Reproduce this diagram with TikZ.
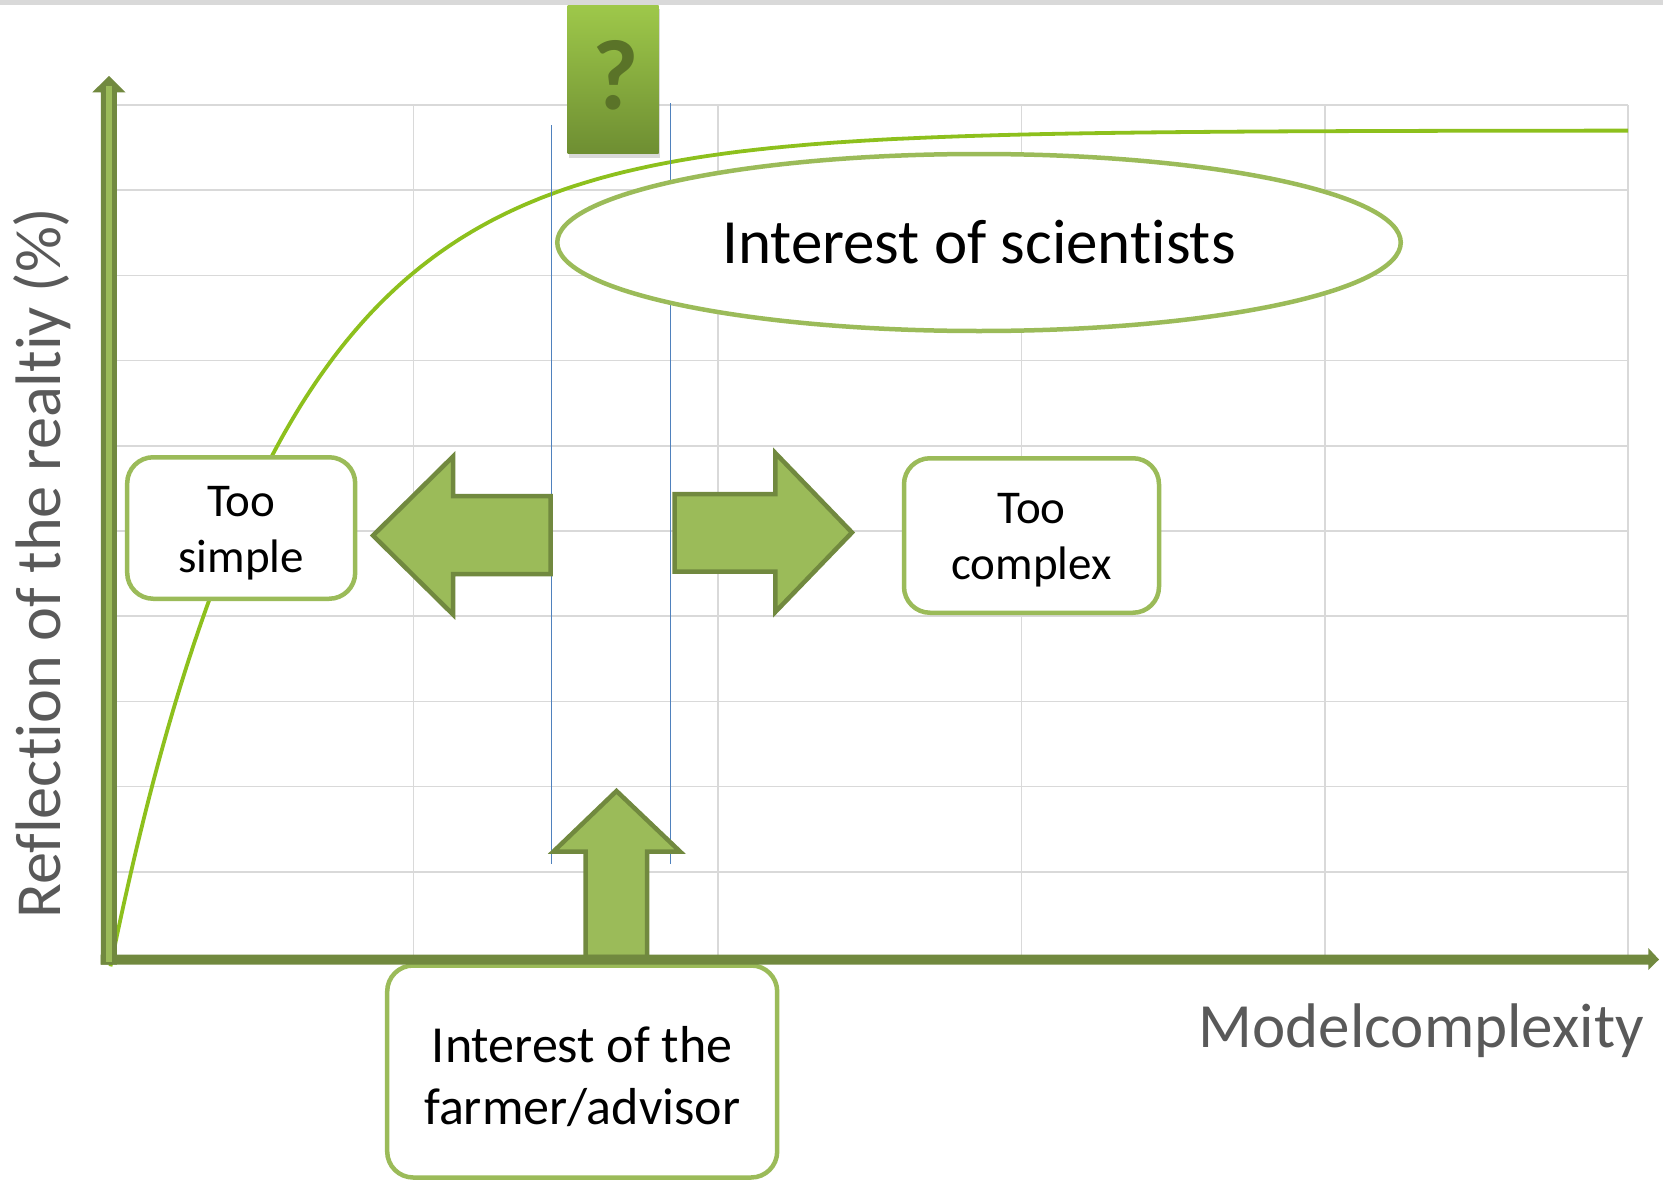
\documentclass[tikz,border=0pt]{standalone}
\usepackage{fontspec}
\setmainfont{Carlito}[Ligatures=NoCommon]
\usetikzlibrary{shapes.geometric,shadows}
\definecolor{gridgray}{RGB}{217,217,217}
\definecolor{axisolive}{RGB}{113,137,63}
\definecolor{lightgreen}{RGB}{155,187,89}
\definecolor{curvegreen}{RGB}{141,192,29}
\definecolor{vblue}{RGB}{79,129,189}
\definecolor{labelgray}{RGB}{89,89,89}
\definecolor{qtop}{RGB}{158,200,74}
\definecolor{qbot}{RGB}{110,142,50}
\definecolor{qmarkcol}{RGB}{90,115,40}
\begin{document}
\begin{tikzpicture}[x=1pt,y=-1pt,
  gridline/.style={draw=gridgray,line width=1.6pt},
  vline/.style={draw=vblue,line width=1.5pt},
  curveline/.style={draw=curvegreen,line width=3.8pt},
  greenbox/.style={draw=lightgreen,line width=4.5pt,fill=white,rounded corners=26pt,
    align=center,inner sep=0pt,font=\fontsize{47}{56}\selectfont,text height=96pt},
  blockarrow/.style={fill=lightgreen,draw=axisolive,line width=4.5pt,line join=miter},
  axislabel/.style={text=labelgray,font=\fontsize{63}{75}\selectfont,inner sep=0pt}]
\useasboundingbox (0,0) rectangle (1663,1183);
\fill[gridgray] (0,0) rectangle (1663,5);
% grid
\foreach \y in {105,190.2,275.4,360.6,445.8,531,616.2,701.4,786.6,871.8}
  \draw[gridline] (110,\y) -- (1628,\y);
\foreach \x in {413.6,718,1021.4,1324.7,1628}
  \draw[gridline] (\x,105) -- (\x,957);
% curve
\draw[curveline] plot[domain=-4:1513.5,samples=240,smooth] ({114.5+\x},{947-816.5*(1-exp(-0.00585*\x))});
% vertical blue lines
\coordinate (l1top) at (551.5,125);
\coordinate (l1bot) at (551.5,864);
\coordinate (l2top) at (670.5,103);
\coordinate (l2bot) at (670.5,864);
\draw[vline] (l1top) -- (l1bot);
\draw[vline] (l2top) -- (l2bot);
% scientists ellipse
\node[ellipse,draw=lightgreen,line width=4.5pt,fill=white,minimum width=843.5pt,minimum height=177pt,
  inner sep=0pt,font=\fontsize{63}{75}\selectfont] (sci) at (979,242.5) {Interest of scientists};
% boxes
\node[greenbox,minimum width=228pt,minimum height=141.5pt] (simple) at (241.2,528) {Too\\simple};
\node[greenbox,minimum width=255pt,minimum height=154.5pt] (complex) at (1031.5,535.5) {Too\\complex};
\node[greenbox,minimum width=390pt,minimum height=212pt,font=\fontsize{52}{61.5}\selectfont,text height=108pt] (farmer) at (582.2,1071.5) {Interest of the\\farmer/advisor};
% block arrows
\draw[blockarrow] (550.5,496) -- (453,496) -- (453,456.5) -- (373,535.5) -- (453,614.5) -- (453,574) -- (550.5,574) -- cycle;
\draw[blockarrow] (674.5,494) -- (775.3,494) -- (775.3,453) -- (852,532.5) -- (775.3,612) -- (775.3,571.5) -- (674.5,571.5) -- cycle;
\draw[blockarrow] (585.5,957) -- (585.5,851.5) -- (553.5,851.5) -- (616.5,791) -- (680,851.5) -- (647,851.5) -- (647,957) -- cycle;
% x axis
\fill[axisolive] (100.7,954.5) -- (1648.3,954.5) -- (1648.3,948) -- (1659,959.5) -- (1648.3,970) -- (1648.3,964.5) -- (100.7,964.5) -- cycle;
% y axis
\fill[axisolive] (100.8,964.5) -- (100.8,92.3) -- (92.3,92.3) -- (109,76) -- (125.5,92.3) -- (116.8,92.3) -- (116.8,964.5) -- cycle;
\draw[lightgreen,line width=5.5pt] (109,961.5) -- (109,86);
% question box
\node[draw=none,top color=qtop,bottom color=qbot,minimum width=91pt,minimum height=148.5pt,inner sep=0pt,
  drop shadow={shadow xshift=1pt,shadow yshift=-4pt,opacity=0.3}] (qbox) at (613,79.5) {};
\node[text=qmarkcol,font=\bfseries\fontsize{100}{110}\selectfont,inner sep=0pt] (qmark) at ([xshift=3pt,yshift=4.5pt]qbox.center) {?};
% axis labels
\node[axislabel,anchor=base east] (xlabel) at (1644,1047) {Modelcomplexity};
\node[axislabel,font=\fontsize{64.3}{76}\selectfont,rotate=90,anchor=base] (ylabel) at (60.5,563) {Reflection of the realtiy (\%)};
\end{tikzpicture}
\end{document}
